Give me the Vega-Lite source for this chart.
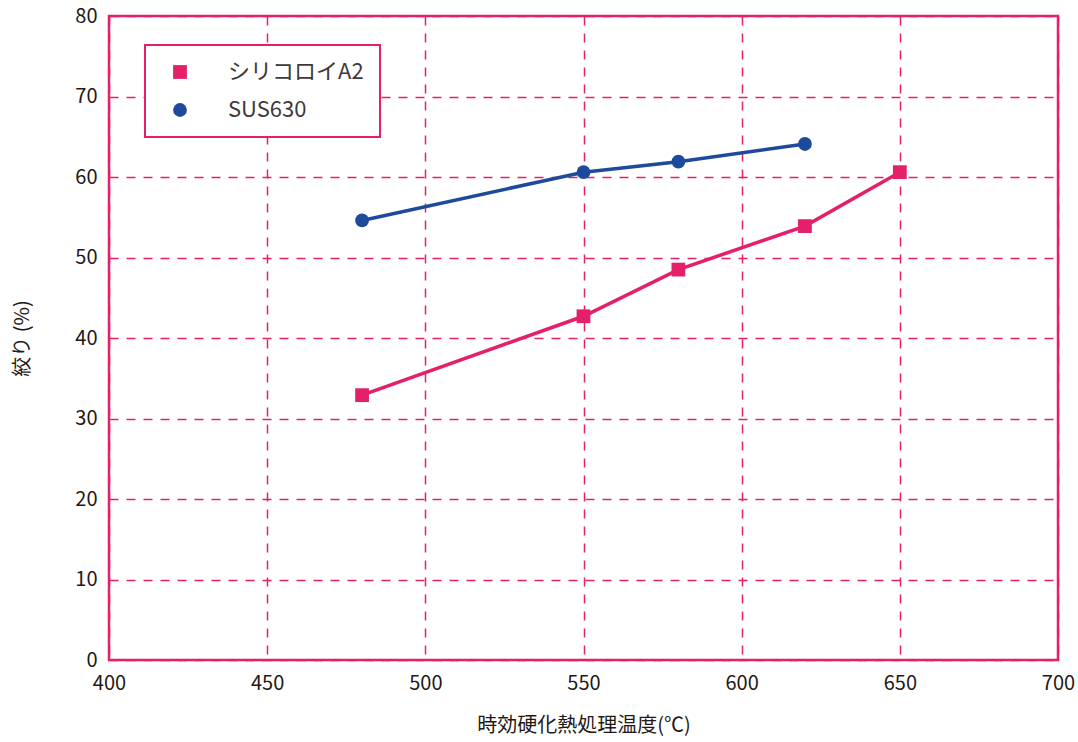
{
  "$schema": "https://vega.github.io/schema/vega-lite/v6.json",
  "width": 949,
  "height": 644,
  "autosize": {"type": "none"},
  "padding": {"left": 109, "top": 16, "right": 20, "bottom": 82},
  "background": "white",
  "config": {
    "font": "Noto Sans CJK JP",
    "view": {"stroke": "#E5206A", "strokeWidth": 2.5},
    "axis": {
      "labelFont": "Noto Sans CJK JP",
      "titleFont": "Noto Sans CJK JP",
      "labelFontSize": 20,
      "titleFontSize": 20,
      "titleFontWeight": "normal",
      "labelColor": "#231815",
      "titleColor": "#231815",
      "ticks": false,
      "domain": false,
      "grid": true,
      "labelFlush": false,
      "gridColor": "#E5206A",
      "gridDash": [9, 8],
      "gridWidth": 1.5,
      "gridOpacity": 1
    },
    "legend": {
      "title": null,
      "orient": "none",
      "legendX": 36,
      "legendY": 29,
      "strokeColor": "#E5206A",
      "strokeWidth": 2,
      "fillColor": "white",
      "padding": 16,
      "labelFontSize": 22,
      "labelFont": "Noto Sans CJK JP",
      "labelColor": "#3e3a39",
      "symbolSize": 190,
      "symbolOffset": 8,
      "labelOffset": 37,
      "rowPadding": 16,
      "symbolStrokeWidth": 0,
      "labelLimit": 300
    }
  },
  "data": {
    "values": [
      {"series": "シリコロイA2", "temp": 480, "value": 32.9},
      {"series": "シリコロイA2", "temp": 550, "value": 42.7},
      {"series": "シリコロイA2", "temp": 580, "value": 48.5},
      {"series": "シリコロイA2", "temp": 620, "value": 53.9},
      {"series": "シリコロイA2", "temp": 650, "value": 60.6},
      {"series": "SUS630", "temp": 480, "value": 54.6},
      {"series": "SUS630", "temp": 550, "value": 60.6},
      {"series": "SUS630", "temp": 580, "value": 61.9},
      {"series": "SUS630", "temp": 620, "value": 64.1}
    ]
  },
  "encoding": {
    "x": {
      "field": "temp", "type": "quantitative",
      "scale": {"domain": [400, 700], "nice": false, "zero": false},
      "axis": {"values": [400, 450, 500, 550, 600, 650, 700], "title": "時効硬化熱処理温度(℃)", "labelPadding": 13, "titlePadding": 22}
    },
    "y": {
      "field": "value", "type": "quantitative",
      "scale": {"domain": [0, 80], "nice": false},
      "axis": {"values": [0, 10, 20, 30, 40, 50, 60, 70, 80], "title": "絞り (%)", "labelPadding": 12, "titlePadding": 42}
    },
    "color": {
      "field": "series", "type": "nominal",
      "scale": {"domain": ["シリコロイA2", "SUS630"], "range": ["#E5206A", "#1D4A9B"]}
    }
  },
  "layer": [
    {
      "mark": {"type": "line", "strokeWidth": 3.5}
    },
    {
      "mark": {"type": "point", "filled": true, "opacity": 1, "size": 190},
      "encoding": {
        "shape": {
          "field": "series", "type": "nominal",
          "scale": {"domain": ["シリコロイA2", "SUS630"], "range": ["square", "circle"]}
        }
      }
    }
  ]
}
